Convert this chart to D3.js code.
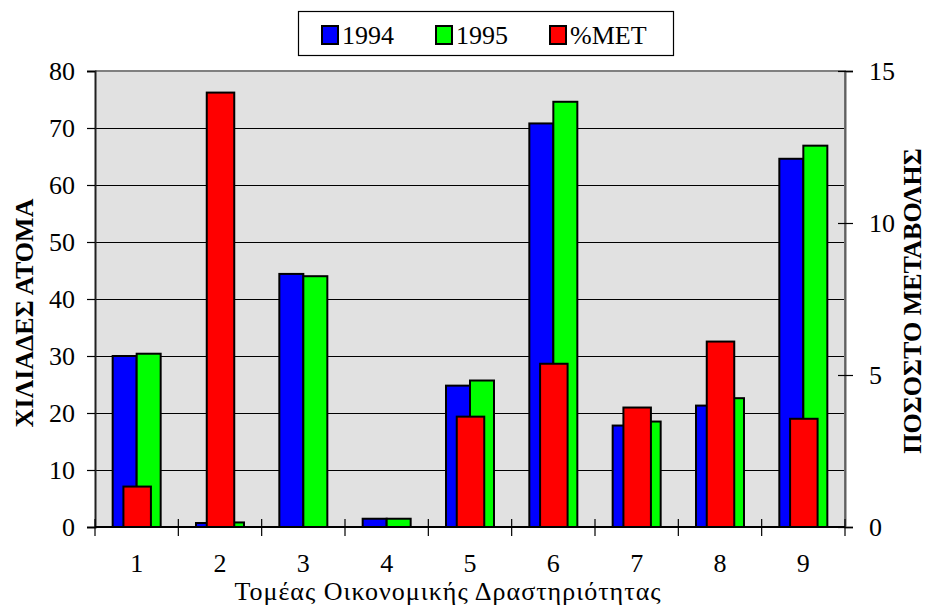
<!DOCTYPE html>
<html>
<head>
<meta charset="utf-8">
<script src="https://cdn.jsdelivr.net/npm/d3@7"></script>
<style>
  html, body { margin: 0; padding: 0; background: #fff; }
</style>
</head>
<body>
<svg id="chart" width="929" height="605"></svg>
<script>
// ---- data ----
const categories = ["1", "2", "3", "4", "5", "6", "7", "8", "9"];
const values1994 = [30.0, 0.7, 44.4, 1.45, 24.8, 70.8, 17.8, 21.3, 64.6];
const values1995 = [30.4, 0.8, 44.0, 1.45, 25.7, 74.6, 18.5, 22.6, 66.9];
const valuesMET  = [1.33, 14.29, -0.9, 0.0, 3.63, 5.37, 3.93, 6.1, 3.56];
const leftTicks  = [0, 10, 20, 30, 40, 50, 60, 70, 80];
const rightTicks = [0, 5, 10, 15];
const seriesNames = ["1994", "1995", "%MET"];
const seriesColors = ["#0000ff", "#00ff00", "#ff0000"];
const xTitle = "Τομέας Οικονομικής Δραστηριότητας";
const yLeftTitle = "ΧΙΛΙΑΔΕΣ ΑΤΟΜΑ";
const yRightTitle = "ΠΟΣΟΣΤΟ ΜΕΤΑΒΟΛΗΣ";

const FONT = "'Liberation Serif', 'Times New Roman', 'DejaVu Serif', serif";

// ---- layout ----
const plot = { left: 95, right: 845, top: 71, bottom: 527 };
const svg = d3.select("#chart");

const x = d3.scaleBand().domain(categories).range([plot.left, plot.right]).padding(0);
const yL = d3.scaleLinear().domain([0, 80]).range([plot.bottom, plot.top]);
const yR = d3.scaleLinear().domain([0, 15]).range([plot.bottom, plot.top]);

const bw = x.bandwidth();
const groupW = bw * 0.576;
const x1 = d3.scaleBand().domain(["1994", "1995"]).range([-groupW / 2, groupW / 2]).padding(0);
const redW = bw * 0.33;

// plot area background
svg.append("rect")
  .attr("x", plot.left).attr("y", plot.top)
  .attr("width", plot.right - plot.left).attr("height", plot.bottom - plot.top)
  .attr("fill", "#e1e1e1");

// gridlines
svg.append("g").selectAll("line")
  .data(leftTicks.filter(t => t > 0 && t < 80))
  .join("line")
  .attr("x1", plot.left).attr("x2", plot.right)
  .attr("y1", d => Math.round(yL(d)) + 0.5).attr("y2", d => Math.round(yL(d)) + 0.5)
  .attr("stroke", "#000").attr("stroke-width", 1);

// plot border top/right (grey)
svg.append("path")
  .attr("d", `M${plot.left},${plot.top} H${plot.right} V${plot.bottom}`)
  .attr("fill", "none").attr("stroke", "#808080").attr("stroke-width", 2);

// bars
const rows = categories.map((c, i) => ({ c, v94: values1994[i], v95: values1995[i], met: valuesMET[i] }));
const barG = svg.append("g").attr("stroke", "#000").attr("stroke-width", 2);

barG.selectAll("rect.b94").data(rows).join("rect").attr("class", "b94")
  .attr("x", d => x(d.c) + bw / 2 + x1("1994"))
  .attr("width", x1.bandwidth())
  .attr("y", d => yL(d.v94))
  .attr("height", d => yL(0) - yL(d.v94))
  .attr("fill", seriesColors[0]);

barG.selectAll("rect.b95").data(rows).join("rect").attr("class", "b95")
  .attr("x", d => x(d.c) + bw / 2 + x1("1995"))
  .attr("width", x1.bandwidth())
  .attr("y", d => yL(d.v95))
  .attr("height", d => yL(0) - yL(d.v95))
  .attr("fill", seriesColors[1]);

barG.selectAll("rect.met").data(rows.filter(d => d.met > 0)).join("rect").attr("class", "met")
  .attr("x", d => x(d.c) + bw / 2 - redW / 2 + 0.5)
  .attr("width", redW)
  .attr("y", d => yR(d.met))
  .attr("height", d => yR(0) - yR(d.met))
  .attr("fill", seriesColors[2]);

// left axis
const axL = svg.append("g").attr("transform", `translate(${plot.left},0)`)
  .call(d3.axisLeft(yL).tickValues(leftTicks).tickSize(8).tickPadding(12).tickFormat(d3.format("d")));
axL.attr("font-family", null).attr("font-size", null);
axL.select(".domain").attr("stroke", "#202020").attr("stroke-width", 2);
axL.selectAll(".tick line").attr("stroke", "#000").attr("stroke-width", 1.2);
axL.selectAll(".tick text").style("font-family", FONT).style("font-size", "26px").attr("dy", "0.34em");

// right axis (cross ticks)
const axR = svg.append("g").attr("transform", `translate(${plot.right},0)`)
  .call(d3.axisRight(yR).tickValues(rightTicks).tickSize(8).tickPadding(16).tickFormat(d3.format("d")));
axR.attr("font-family", null).attr("font-size", null);
axR.select(".domain").attr("stroke", "#606060").attr("stroke-width", 2);
axR.selectAll(".tick line").attr("x1", -7).attr("stroke", "#000").attr("stroke-width", 1.2);
axR.selectAll(".tick text").style("font-family", FONT).style("font-size", "26px").attr("dy", "0.34em");

// bottom axis: labels
const axB = svg.append("g").attr("transform", `translate(0,${plot.bottom})`)
  .call(d3.axisBottom(x).tickSize(0).tickPadding(27));
axB.attr("font-family", null).attr("font-size", null);
axB.select(".domain").remove();
axB.selectAll(".tick text").style("font-family", FONT).style("font-size", "26px").attr("dy", "0.71em");

// bottom axis line + boundary ticks (crossing)
svg.append("line")
  .attr("x1", plot.left).attr("x2", plot.right)
  .attr("y1", plot.bottom).attr("y2", plot.bottom)
  .attr("stroke", "#000").attr("stroke-width", 2);
const bounds = categories.map(c => x(c)).concat([x(categories[categories.length - 1]) + bw]);
svg.append("g").selectAll("line").data(bounds).join("line")
  .attr("x1", d => d).attr("x2", d => d)
  .attr("y1", plot.bottom - 8).attr("y2", plot.bottom + 9)
  .attr("stroke", "#000").attr("stroke-width", 1.2);

// axis titles
svg.append("text")
  .attr("x", 448).attr("y", 600)
  .attr("text-anchor", "middle")
  .style("font-family", FONT)
  .style("font-size", "26px")
  .style("letter-spacing", "1px")
  .text(xTitle);

svg.append("text")
  .attr("transform", `translate(33,${(plot.top + plot.bottom) / 2 + 14}) rotate(-90)`)
  .attr("text-anchor", "middle")
  .style("font-family", FONT)
  .style("font-size", "26px").style("font-weight", "bold")
  .text(yLeftTitle);

svg.append("text")
  .attr("transform", `translate(921,${(plot.top + plot.bottom) / 2 + 2}) rotate(-90)`)
  .attr("text-anchor", "middle")
  .style("font-family", FONT)
  .style("font-size", "26px").style("font-weight", "bold")
  .text(yRightTitle);

// legend
const legend = { x: 298, y: 11, w: 375, h: 44 };
svg.append("rect")
  .attr("x", legend.x + 0.5).attr("y", legend.y + 0.5)
  .attr("width", legend.w).attr("height", legend.h)
  .attr("fill", "#fff").attr("stroke", "#000").attr("stroke-width", 1.2);
const legendItemX = [322, 436, 550];
const lg = svg.append("g").selectAll("g").data(seriesNames).join("g")
  .attr("transform", (d, i) => `translate(${legendItemX[i]},${legend.y + 15})`);
lg.append("rect")
  .attr("width", 16).attr("height", 18)
  .attr("fill", (d, i) => seriesColors[i])
  .attr("stroke", "#000").attr("stroke-width", 2);
lg.append("text")
  .attr("x", 20).attr("y", 18)
  .style("font-family", FONT)
  .style("font-size", "26px")
  .text(d => d);
</script>
</body>
</html>
